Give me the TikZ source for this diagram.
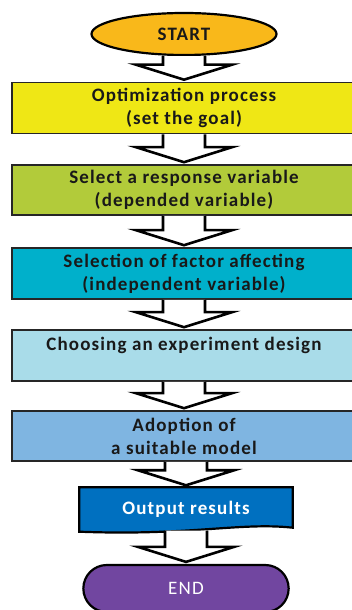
\documentclass[tikz,border=0pt]{standalone}
\usepackage{fontspec}
\setmainfont[LetterSpace=6]{Carlito}
\usetikzlibrary{calc,shapes.geometric,shapes.misc,backgrounds}
\definecolor{startfill}{HTML}{F9B81A}
\definecolor{goalfill}{HTML}{EFE715}
\definecolor{responsefill}{HTML}{B2CB3A}
\definecolor{factorfill}{HTML}{00B0CB}
\definecolor{designfill}{HTML}{A9DCE9}
\definecolor{modelfill}{HTML}{7FB5E1}
\definecolor{outputfill}{HTML}{0070C0}
\definecolor{endfill}{HTML}{7146A0}
\newcommand\flowarrow[2]{%
  \draw[flowarrow] ($(#1.south -| #2.north)+(-21,0)$) -- ($(#2.north)+(-21,17)$)
    -- ($(#2.north)+(-48,17)$) -- ($(#2.north)+(0,2)$) -- ($(#2.north)+(48,17)$)
    -- ($(#2.north)+(21,17)$) -- ($(#1.south -| #2.north)+(21,0)$);}
\begin{document}
\begin{tikzpicture}[x=1pt,y=1pt,
    every node/.style={font=\fontsize{19}{23}\selectfont\bfseries,text=black!90,align=center},
    stepbox/.style={draw=black!85,line width=1.6pt,minimum width=344pt,minimum height=51pt},
    flowarrow/.style={draw=black,fill=white,line width=2.6pt,line join=miter}]
    \useasboundingbox (0,0) rectangle (352,610);
    \node[ellipse,draw=black,line width=2.2pt,fill=startfill,minimum width=185pt,minimum height=42pt] (start) at (184,576) {START};
    \node[stepbox,fill=goalfill] (goal) at (184,502) {Optimization process\\(set the goal)};
    \node[stepbox,fill=responsefill,minimum height=50pt] (response) at (184,420) {Select a response variable\\(depended variable)};
    \node[stepbox,fill=factorfill] (factor) at (184,336.5) {Selection of factor affecting\\(independent variable)};
    \node[stepbox,fill=designfill] (design) at (184,254.5) {Choosing an experiment design\\\mbox{}};
    \node[stepbox,fill=modelfill,minimum height=50pt] (model) at (184,174) {Adoption of\\a suitable model};
    \node[text=white,minimum width=213pt,minimum height=43pt] (output) at (186,101) {Output results};
    \node[rounded rectangle,draw=black,line width=2.2pt,fill=endfill,text=white,minimum width=212pt,minimum height=47pt,font=\fontsize{19}{23}\selectfont] (end) at (186,21.5) {END};
    \begin{pgfonlayer}{background}
        \draw[draw=black,line width=2.2pt,fill=outputfill] (output.north west) -- (output.north east)
            -- ($(output.south east)+(0,3)$) .. controls (240,88) and (190,74) .. ($(output.south west)+(0,-1)$) -- cycle;
    \end{pgfonlayer}
    \flowarrow{start}{goal}
    \flowarrow{goal}{response}
    \flowarrow{response}{factor}
    \flowarrow{factor}{design}
    \flowarrow{design}{model}
    \flowarrow{model}{output}
    \flowarrow{output}{end}
\end{tikzpicture}
\end{document}
